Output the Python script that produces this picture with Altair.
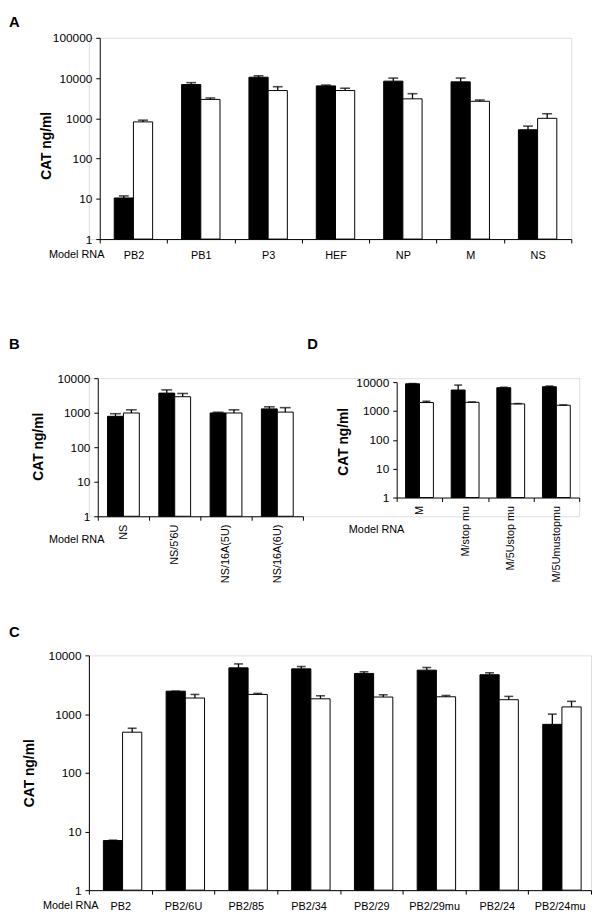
import altair as alt
import pandas as pd

FONT = "Liberation Sans"

# ---------------- data ----------------
A_cats = ["PB2", "PB1", "P3", "HEF", "NP", "M", "NS"]
A_black = [10.5, 6900, 10500, 6400, 8400, 8050, 520]
A_black_err = [11.8, 7700, 11400, 6700, 10000, 10000, 640]
A_white = [815, 2950, 4900, 4900, 3050, 2650, 1000]
A_white_err = [900, 3200, 6100, 5600, 4100, 2850, 1300]

B_cats = ["NS", "NS/5'6U", "NS/16A(5U)", "NS/16A(6U)"]
B_black = [785, 3690, 980, 1290]
B_black_err = [935, 4580, 1030, 1480]
B_white = [980, 2900, 980, 1040]
B_white_err = [1210, 3600, 1210, 1400]

D_cats = ["M", "M/stop mu", "M/5Ustop mu", "M/5Umustopmu"]
D_black = [8750, 5320, 6400, 6930]
D_black_err = [8900, 7890, 6600, 7300]
D_white = [1960, 2000, 1760, 1580]
D_white_err = [2170, 2050, 1800, 1620]

C_cats = ["PB2", "PB2/6U", "PB2/85", "PB2/34", "PB2/29", "PB2/29mu", "PB2/24", "PB2/24mu"]
C_black = [7.0, 2455, 6130, 5890, 4920, 5600, 4680, 668]
C_black_err = [7.1, 2455, 7150, 6450, 5250, 6210, 5050, 997]
C_white = [491, 1876, 2160, 1820, 1950, 1970, 1757, 1324]
C_white_err = [573, 2160, 2250, 2050, 2130, 2070, 2000, 1648]

SERIES = ["a", "b"]


def make_df(cats, black, black_err, white, white_err):
    rows = []
    for i, c in enumerate(cats):
        rows.append({"cat": c, "series": "a", "value": black[i], "err": black_err[i]})
        rows.append({"cat": c, "series": "b", "value": white[i], "err": white_err[i]})
    return pd.DataFrame(rows)


def panel(df, cats, ymax, xrange, xoff_pad, cap, y_offset, y_title_x, y_title_y,
          x_title_x, x_title_y, rotated, x_offset=0, yrange=None, label_pad=7):
    yvals = [10 ** k for k in range(0, len(str(ymax)))]
    xaxis_kw = dict(
        title="Model RNA", titleX=x_title_x, titleY=x_title_y, titleAlign="left",
        titleBaseline="middle", titleFontSize=11, titleFontWeight="normal", titleFont=FONT,
        titleColor="black", labelFont=FONT, labelFontSize=11, labelColor="black",
        tickBand="extent", tickSize=4, tickColor="black", domainColor="black",
        orient="bottom", offset=x_offset, grid=False,
    )
    if rotated:
        xaxis_kw.update(labelAngle=-90, labelAlign="right", labelBaseline="middle", labelPadding=4)
    else:
        xaxis_kw.update(labelAngle=0, labelPadding=label_pad)
    x_axis = alt.Axis(**xaxis_kw)
    y_axis = alt.Axis(
        values=yvals, format="d", title="CAT ng/ml", titleX=y_title_x, titleY=y_title_y,
        titleBaseline="middle", titleFontSize=14, titleFontWeight="bold", titleFont=FONT,
        titleColor="black", labelFont=FONT, labelFontSize=12, labelColor="black",
        tickSize=4, labelPadding=4, tickColor="black", domainColor="black",
        orient="left", offset=y_offset, grid=False,
    )
    xs = alt.Scale(range=xrange, paddingInner=0, paddingOuter=0)
    x = alt.X("cat:N", sort=cats, scale=xs, axis=x_axis)
    xo = alt.XOffset("series:N", sort=SERIES,
                     scale=alt.Scale(domain=SERIES, paddingInner=0, paddingOuter=xoff_pad))
    ys_kw = dict(type="log", domain=[1, ymax], nice=False)
    if yrange is not None:
        ys_kw["range"] = yrange
    ys = alt.Scale(**ys_kw)

    base = alt.Chart(df)
    bars = base.mark_bar(stroke="black", strokeWidth=1).encode(
        x=x, xOffset=xo,
        y=alt.Y("value:Q", scale=ys, axis=y_axis),
        y2=alt.datum(1),
        fill=alt.Fill("series:N", scale=alt.Scale(domain=SERIES, range=["black", "white"]), legend=None),
    )
    rules = base.mark_rule(color="black", strokeWidth=1.3).encode(
        x=x, xOffset=xo,
        y=alt.Y("value:Q", scale=ys, axis=y_axis),
        y2="err:Q",
    )
    caps = base.mark_tick(color="black", thickness=1.6, size=cap).encode(
        x=x, xOffset=xo,
        y=alt.Y("err:Q", scale=ys, axis=y_axis),
    )
    return alt.layer(bars, rules, caps)


def letter(text, offset):
    return alt.TitleParams(text, anchor="start", frame="group", dx=-81, offset=offset,
                           fontSize=15, fontWeight="bold", font=FONT, color="black")


dfA = make_df(A_cats, A_black, A_black_err, A_white, A_white_err)
dfB = make_df(B_cats, B_black, B_black_err, B_white, B_white_err)
dfD = make_df(D_cats, D_black, D_black_err, D_white, D_white_err)
dfC = make_df(C_cats, C_black, C_black_err, C_white, C_white_err)

chartA = panel(dfA, A_cats, 100000, [11, 489], 0.754, 10, -11, -54, 109, -41, 16, False).properties(
    width=489, height=204, title=letter("A", 2))

layerB = panel(dfB, B_cats, 10000, [9, 217], 0.613, 11, -9, -60, 69, -41, 24, True)
layerD = panel(dfD, D_cats, 10000, [312, 497], 0.64, 8, -312, -54, 64, 263, 32, True,
               x_offset=-19, yrange=[121, 4])
chartBD = alt.layer(layerB, layerD).resolve_scale(
    x="independent", y="independent", xOffset="independent"
).resolve_axis(x="independent", y="independent").properties(
    width=497, height=140, title=letter("B" + "\u00a0" * 70 + "D", 21))

chartC = panel(dfC, C_cats, 10000, [0, 509], 0.667, 9, 0, -60, 119, -47, 16, False).properties(
    width=509, height=238, title=letter("C", 10))

chart = alt.vconcat(chartA, chartBD, chartC, spacing=141, bounds="flush").properties(
    padding=0
).configure_view(stroke=None).configure(font=FONT, background="white")

chart.save("out.html", embed_options={"renderer": "svg", "actions": False})
